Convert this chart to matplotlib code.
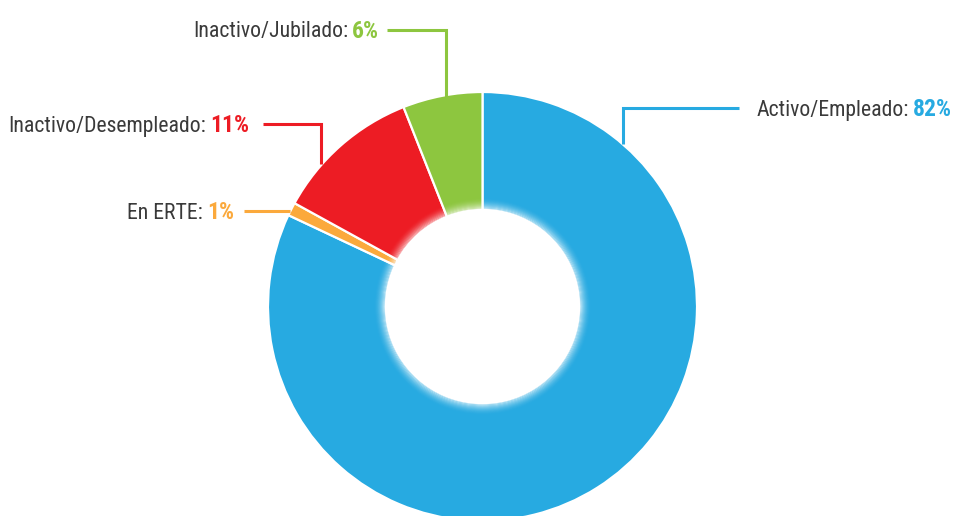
import numpy as np
import matplotlib
matplotlib.use("Agg")
import matplotlib.pyplot as plt
from matplotlib.patches import Wedge, Circle

# datos
categorias = ["Activo/Empleado", "En ERTE", "Inactivo/Desempleado", "Inactivo/Jubilado"]
porcentajes = [82, 1, 11, 6]
colores = ["#27AAE1", "#FBA93C", "#ED1C24", "#8DC63F"]

W, H = 956, 516
CX, CY = 482.5, H - 306.5
R_OUT, R_IN = 214.5, 96.5
TXT = "#3a3a3a"
FAM = ["Roboto Condensed", "IBM Plex Sans Condensed", "DejaVu Sans"]

fig = plt.figure(figsize=(W / 100, H / 100), dpi=100)
ax = fig.add_axes([0, 0, 1, 1])

ax.pie(porcentajes, colors=colores, startangle=90, counterclock=False,
       center=(CX, CY), radius=R_OUT,
       wedgeprops=dict(width=R_OUT - R_IN, edgecolor="white", linewidth=1.6))

# halo blanco alrededor del hueco
n = 12
for i in range(n):
    a = 0.85 * (1 - i / n) ** 2
    ax.add_patch(Wedge((CX, CY), R_IN + i + 1, 0, 360, width=1.0,
                       facecolor="white", edgecolor="none", alpha=a))
ax.add_patch(Circle((CX, CY), R_IN + 0.5, facecolor="white", edgecolor="none"))

ax.set_xlim(0, W)
ax.set_ylim(0, H)
ax.set_aspect("auto")
ax.axis("off")

# líneas guía (coordenadas en píxeles desde arriba)
def Y(py):
    return H - py

def lead(points, color):
    xs = [p[0] for p in points]
    ys = [Y(p[1]) for p in points]
    ax.plot(xs, ys, color=color, lw=2.2, solid_capstyle="butt",
            solid_joinstyle="miter")

lead([(739, 108), (623, 108), (623, 144)], colores[0])
lead([(244, 211), (290, 211)], colores[1])
lead([(263, 124), (321, 124), (321, 164)], colores[2])
lead([(387, 29.5), (446, 29.5), (446, 98)], colores[3])

fig.canvas.draw()
renderer = fig.canvas.get_renderer()
FS_LAB = 15.7
FS_PCT = 17


def etiqueta_izq(x0, y, cat, pct, color):
    t1 = ax.text(x0, Y(y + 8), cat + ":", fontsize=FS_LAB, color=TXT,
                 family=FAM, ha="left", va="baseline")
    bb = t1.get_window_extent(renderer)
    ax.text(bb.x1 + 4, Y(y + 8), f"{pct}%", fontsize=FS_PCT, color=color,
            family=FAM, fontweight="heavy", ha="left", va="baseline")


def etiqueta_der(x1, y, cat, pct, color):
    t2 = ax.text(x1, Y(y + 8), f"{pct}%", fontsize=FS_PCT, color=color,
                 family=FAM, fontweight="heavy", ha="right", va="baseline")
    bb = t2.get_window_extent(renderer)
    ax.text(bb.x0 - 4, Y(y + 8), cat + ":", fontsize=FS_LAB, color=TXT,
            family=FAM, ha="right", va="baseline")


etiqueta_izq(757, 108, categorias[0], porcentajes[0], colores[0])
etiqueta_der(234, 211, categorias[1], porcentajes[1], colores[1])
etiqueta_der(249, 124, categorias[2], porcentajes[2], colores[2])
etiqueta_der(379, 29.5, categorias[3], porcentajes[3], colores[3])

fig.savefig("out.png", dpi=100, facecolor="white")
